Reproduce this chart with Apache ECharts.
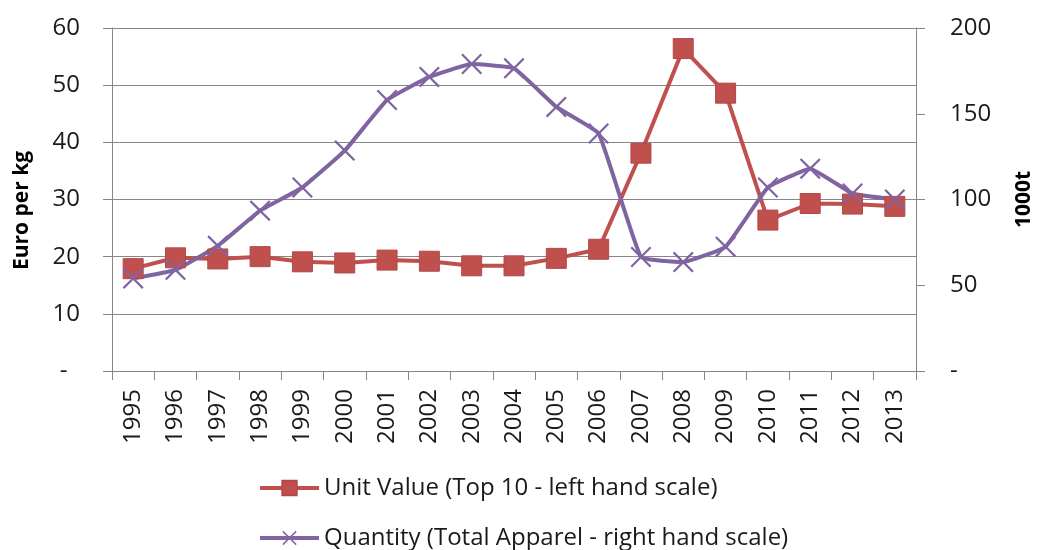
<!DOCTYPE html>
<html>
<head>
<meta charset="utf-8">
<script src="https://cdn.jsdelivr.net/npm/echarts@6/dist/echarts.min.js"></script>
<style>html,body{margin:0;padding:0;background:#fff}#c{width:1043px;height:550px}</style>
</head>
<body>
<div id="c"></div>
<script>
const years = ['1995','1996','1997','1998','1999','2000','2001','2002','2003','2004','2005','2006','2007','2008','2009','2010','2011','2012','2013'];
const unitValue = [17.9,19.8,19.6,20.0,19.1,18.9,19.4,19.2,18.4,18.4,19.7,21.3,38.1,56.4,48.6,26.4,29.3,29.2,28.8];
const quantity = [54,59,73,93.5,107,128.5,158,171.5,179,176.5,154,138.5,66.5,63.5,72.5,107,118,103.5,100];
const leftTicks = {min:0, max:60, interval:10};
const rightTicks = {min:0, max:200, interval:50};
const names = ['Unit Value (Top 10 - left hand scale)', 'Quantity (Total Apparel - right hand scale)'];

const FONT = 'Open Sans';
const FS = 24;
const crossPath = 'path://M0 1.5L1.5 0L10 8.5L18.5 0L20 1.5L11.5 10L20 18.5L18.5 20L10 11.5L1.5 20L0 18.5L8.5 10Z';
const legendText = {fontFamily:FONT, fontSize:FS, color:'#1a1a1a', lineHeight:24};
const chart = echarts.init(document.getElementById('c'), null, {renderer:'canvas'});
chart.setOption({
  animation:false,
  backgroundColor:'#fff',
  textStyle:{fontFamily:FONT},
  grid:{left:112, right:122, top:28, bottom:179, containLabel:false},
  legend:[{
    orient:'horizontal', left:258, top:476, padding:0, itemWidth:59, itemHeight:18,
    lineStyle:{width:4}, textStyle:legendText, data:[names[0]]
  },{
    orient:'horizontal', left:258, top:526, padding:0, itemWidth:59, itemHeight:18,
    lineStyle:{width:4}, textStyle:legendText, data:[names[1]]
  }],
  xAxis:{
    type:'category', data:years, boundaryGap:true,
    axisLine:{lineStyle:{color:'#868686', width:1}},
    axisTick:{show:true, length:9, lineStyle:{color:'#868686'}},
    axisLabel:{rotate:90, margin:18, fontFamily:FONT, fontSize:FS, color:'#1a1a1a', interval:0}
  },
  yAxis:[{
    type:'value', position:'left', min:leftTicks.min, max:leftTicks.max, interval:leftTicks.interval,
    name:'Euro per kg', nameLocation:'middle', nameRotate:90, nameGap:79,
    nameTextStyle:{fontFamily:FONT, fontSize:21, fontWeight:'bold', color:'#000', padding:[0,22,0,0]},
    axisLine:{show:true, lineStyle:{color:'#868686'}},
    axisTick:{show:true, length:9, lineStyle:{color:'#868686'}},
    splitLine:{show:true, lineStyle:{color:'#878787', width:1}},
    axisLabel:{margin:32, fontFamily:FONT, fontSize:FS, color:'#1a1a1a', formatter:v=>v===0?'-  ':String(v)}
  },{
    type:'value', position:'right', min:rightTicks.min, max:rightTicks.max, interval:rightTicks.interval,
    name:'1000t', nameLocation:'middle', nameRotate:90, nameGap:98,
    nameTextStyle:{fontFamily:FONT, fontSize:21, fontWeight:'bold', color:'#000'},
    axisLine:{show:true, lineStyle:{color:'#868686'}},
    axisTick:{show:true, length:9, lineStyle:{color:'#868686'}},
    splitLine:{show:false},
    axisLabel:{margin:34, fontFamily:FONT, fontSize:FS, color:'#1a1a1a', formatter:v=>v===0?'-':String(v)}
  }],
  series:[{
    name:names[0], type:'line', yAxisIndex:0, data:unitValue,
    symbol:'rect', symbolSize:20, showAllSymbol:true,
    lineStyle:{color:'#C0504D', width:4},
    itemStyle:{color:'#C0504D', borderColor:'#B4484A', borderWidth:1}
  },{
    name:names[1], type:'line', yAxisIndex:1, data:quantity, smooth:0.1,
    symbol:crossPath, symbolSize:21, showAllSymbol:true,
    lineStyle:{color:'#8064A2', width:4},
    itemStyle:{color:'#8064A2'}
  }]
});
</script>
</body>
</html>
